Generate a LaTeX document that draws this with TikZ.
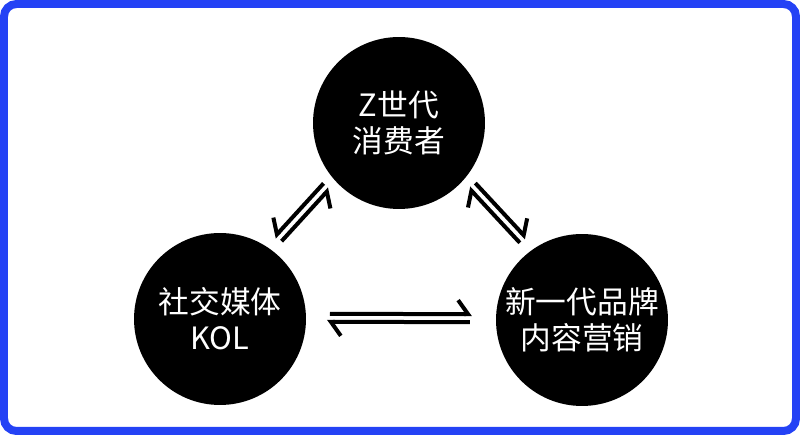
\documentclass[tikz,border=0pt]{standalone}
\usepackage{fontspec}
\setmainfont{Noto Sans CJK SC}
\usepackage{tikz}
\usetikzlibrary{arrows.meta,calc,positioning}
\usepackage{xcolor}
\definecolor{frameblue}{RGB}{36,66,245}

\begin{document}
\begin{tikzpicture}[x=0.02cm,y=0.02cm,
  bubble/.style={circle,fill=black,minimum size=3.44cm,inner sep=0pt,
    text=white,align=center,font=\fontsize{17.5}{20.5}\selectfont},
  harpL/.style={line width=0.08cm,-{Straight Barb[left,length=0.2cm,width=0.56cm]}},
  harpR/.style={line width=0.08cm,-{Straight Barb[right,length=0.2cm,width=0.56cm]}}]
\useasboundingbox (0,0) rectangle (800,435);
\draw[frameblue,line width=0.16cm,rounded corners=0.25cm] (4,4) rectangle (796,431);
\node[bubble] (gen) at (399,312) {Z世代\\消费者};
\node[bubble] (kol) at (220,116) {社交媒体\\KOL};
\node[bubble] (brand) at (582,115) {新一代品牌\\内容营销};
% kol <-> gen
\draw[harpR] ($(kol)!3.4cm!(gen)!0.3cm!90:(gen)$) -- ($(kol)!1.94cm!(gen)!0.3cm!90:(gen)$);
\draw[harpR] ($(kol)!1.98cm!(gen)!0.14cm!90:(gen)$) -- ($(kol)!3.4cm!(gen)!0.14cm!90:(gen)$);
% gen <-> brand
\draw[harpL] ($(gen)!3.4cm!(brand)!0.14cm!90:(brand)$) -- ($(gen)!1.9cm!(brand)!0.14cm!90:(brand)$);
\draw[harpL] ($(gen)!1.92cm!(brand)!0.3cm!90:(brand)$) -- ($(gen)!3.42cm!(brand)!0.3cm!90:(brand)$);
% kol <-> brand
\draw[harpL] ($(kol)!2.2cm!(brand)!0.11cm!90:(brand)$) -- ($(kol)!5.04cm!(brand)!0.11cm!90:(brand)$);
\draw[harpL] ($(kol)!5.0cm!(brand)!0.05cm!-90:(brand)$) -- ($(kol)!2.14cm!(brand)!0.05cm!-90:(brand)$);
\end{tikzpicture}
\end{document}
